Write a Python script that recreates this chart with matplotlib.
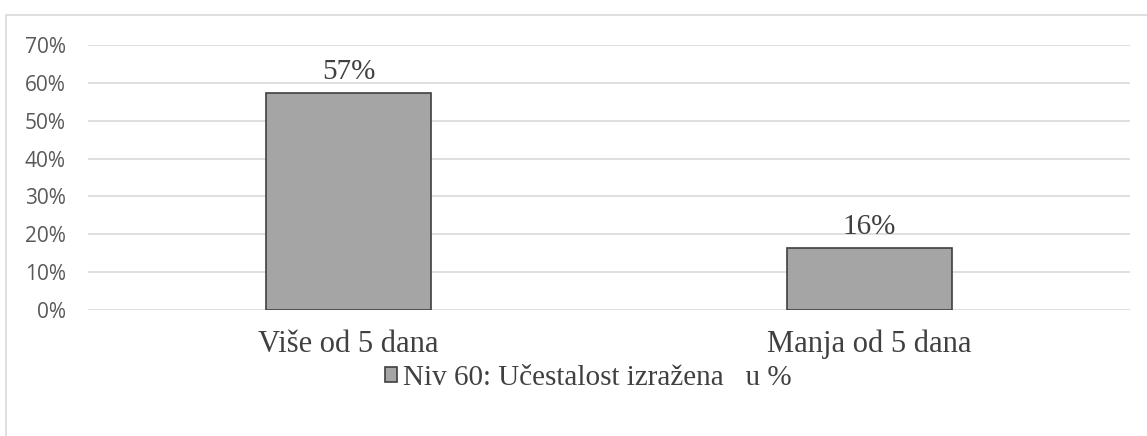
import matplotlib.pyplot as plt
from matplotlib.patches import Rectangle
from matplotlib.ticker import PercentFormatter

# podaci
kategorije = ["Više od 5 dana", "Manja od 5 dana"]
vrijednosti = [0.573, 0.164]
naziv_serije = "Niv 60: Učestalost izražena   u %"
y_ticks = [0.0, 0.1, 0.2, 0.3, 0.4, 0.5, 0.6, 0.7]

fig = plt.figure(figsize=(11.47, 4.36), dpi=100)
ax = fig.add_axes([88 / 1147, 1 - 310 / 436, (1130 - 88) / 1147, (310 - 45) / 436])

# okvir oko grafikona
fig.patches.append(Rectangle((6 / 1147, -0.05), 1.2, 1 - 15 / 436 + 0.05,
                             transform=fig.transFigure, fill=False,
                             edgecolor="#D9D9D9", linewidth=1.2))

x = range(len(kategorije))
bars = ax.bar(x, vrijednosti, width=0.315, color="#A5A5A5", edgecolor="#404040",
              linewidth=1.2, label=naziv_serije, zorder=3)

for b, v in zip(bars, vrijednosti):
    ax.annotate(f"{round(v * 100):.0f}%", (b.get_x() + b.get_width() / 2, v),
                xytext=(0, 6), textcoords="offset points", ha="center", va="bottom",
                fontsize=21, family="Liberation Serif", color="#404040")

ax.set_xlim(-0.5, 1.5)
ax.set_ylim(0, 0.7)
ax.set_yticks(y_ticks)
ax.yaxis.set_major_formatter(PercentFormatter(1.0, decimals=0))
ax.set_xticks(list(x))
ax.set_xticklabels(kategorije, fontsize=22, family="Liberation Serif", color="#404040", va="baseline")
ax.tick_params(axis="x", length=0, pad=30)
ax.tick_params(axis="y", length=0, pad=16, labelsize=15, labelcolor="#595959")
for lbl in ax.get_yticklabels():
    lbl.set_family("Open Sans")

ax.grid(axis="y", color="#D9D9D9", linewidth=1.2, zorder=0)
for s in ax.spines.values():
    s.set_visible(False)

fig.legend(handles=[bars], labels=[naziv_serije], loc="center", bbox_to_anchor=(588 / 1147, 1 - 378 / 436),
           frameon=False, prop={"family": "Liberation Serif", "size": 21}, handlelength=0.42,
           handleheight=0.42, handletextpad=0.2, labelcolor="#404040")

fig.savefig("out.png", dpi=100)
